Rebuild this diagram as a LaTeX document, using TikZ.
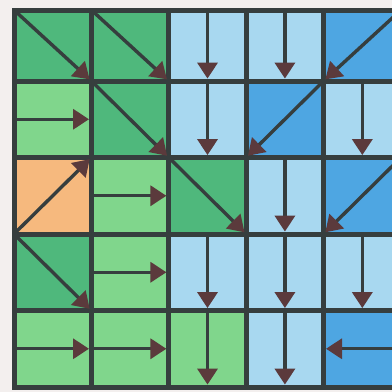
\documentclass[tikz,border=0pt]{standalone}
\usepackage{xcolor}
\usepackage{tikz}
\usetikzlibrary{arrows.meta, positioning}

\definecolor{paper}{HTML}{F3EFEE}
\definecolor{gridline}{HTML}{363E3E}
\definecolor{tipcol}{HTML}{5B3A3C}
\definecolor{lgreen}{HTML}{80D68C}
\definecolor{mgreen}{HTML}{4FB87C}
\definecolor{lblue}{HTML}{A8D8F0}
\definecolor{mblue}{HTML}{4EA6E2}
\definecolor{sand}{HTML}{F6B97E}

\begin{document}
\begin{tikzpicture}[
    x=0.25mm, y=-0.25mm,
    node distance=0pt,
    cell/.style={draw=gridline, line width=1.25mm, minimum width=19.35mm, minimum height=19.125mm, inner sep=0pt, outer sep=0pt},
    toprow/.style={minimum height=17.75mm},
    lgcell/.style={cell, fill=lgreen},
    mgcell/.style={cell, fill=mgreen},
    lbcell/.style={cell, fill=lblue},
    mbcell/.style={cell, fill=mblue},
    sandcell/.style={cell, fill=sand},
    flow/.style={draw=gridline, line width=0.85mm, shorten >=0.6mm, -{Triangle[length=4mm, width=5mm, color=tipcol]}},
]
% paper and frame
\path[use as bounding box, fill=paper] (0,0) rectangle (392,392);
\clip (0,0) rectangle (392,392);

% Row 1
\node[mgcell, toprow, anchor=north west] (c11) at (14,10) {};
\node[mgcell, toprow, right=of c11] (c12) {};
\node[lbcell, toprow, right=of c12] (c13) {};
\node[lbcell, toprow, right=of c13] (c14) {};
\node[mbcell, toprow, right=of c14] (c15) {};

% Row 2
\node[lgcell, below=of c11] (c21) {};
\node[mgcell, right=of c21] (c22) {};
\node[lbcell, right=of c22] (c23) {};
\node[mbcell, right=of c23] (c24) {};
\node[lbcell, right=of c24] (c25) {};

% Row 3
\node[sandcell, below=of c21] (c31) {};
\node[lgcell, right=of c31] (c32) {};
\node[mgcell, right=of c32] (c33) {};
\node[lbcell, right=of c33] (c34) {};
\node[mbcell, right=of c34] (c35) {};

% Row 4
\node[mgcell, below=of c31] (c41) {};
\node[lgcell, right=of c41] (c42) {};
\node[lbcell, right=of c42] (c43) {};
\node[lbcell, right=of c43] (c44) {};
\node[lbcell, right=of c44] (c45) {};

% Row 5
\node[lgcell, below=of c41] (c51) {};
\node[lgcell, right=of c51] (c52) {};
\node[lgcell, right=of c52] (c53) {};
\node[lbcell, right=of c53] (c54) {};
\node[mbcell, right=of c54] (c55) {};

% Arrows
\draw[flow] (c11.north west) -- (c11.south east);
\draw[flow] (c12.north west) -- (c12.south east);
\draw[flow] (c13.north) -- (c13.south);
\draw[flow] (c14.north) -- (c14.south);
\draw[flow] (c15.north east) -- (c15.south west);

\draw[flow] (c21.west) -- (c21.east);
\draw[flow] (c22.north west) -- (c22.south east);
\draw[flow] (c23.north) -- (c23.south);
\draw[flow] (c24.north east) -- (c24.south west);
\draw[flow] (c25.north) -- (c25.south);

\draw[flow] (c31.south west) -- (c31.north east);
\draw[flow] (c32.west) -- (c32.east);
\draw[flow] (c33.north west) -- (c33.south east);
\draw[flow] (c34.north) -- (c34.south);
\draw[flow] (c35.north east) -- (c35.south west);

\draw[flow] (c41.north west) -- (c41.south east);
\draw[flow] (c42.west) -- (c42.east);
\draw[flow] (c43.north) -- (c43.south);
\draw[flow] (c44.north) -- (c44.south);
\draw[flow] (c45.north) -- (c45.south);

\draw[flow] (c51.west) -- (c51.east);
\draw[flow] (c52.west) -- (c52.east);
\draw[flow] (c53.north) -- (c53.south);
\draw[flow] (c54.north) -- (c54.south);
\draw[flow] (c55.east) -- (c55.west);
\end{tikzpicture}
\end{document}
